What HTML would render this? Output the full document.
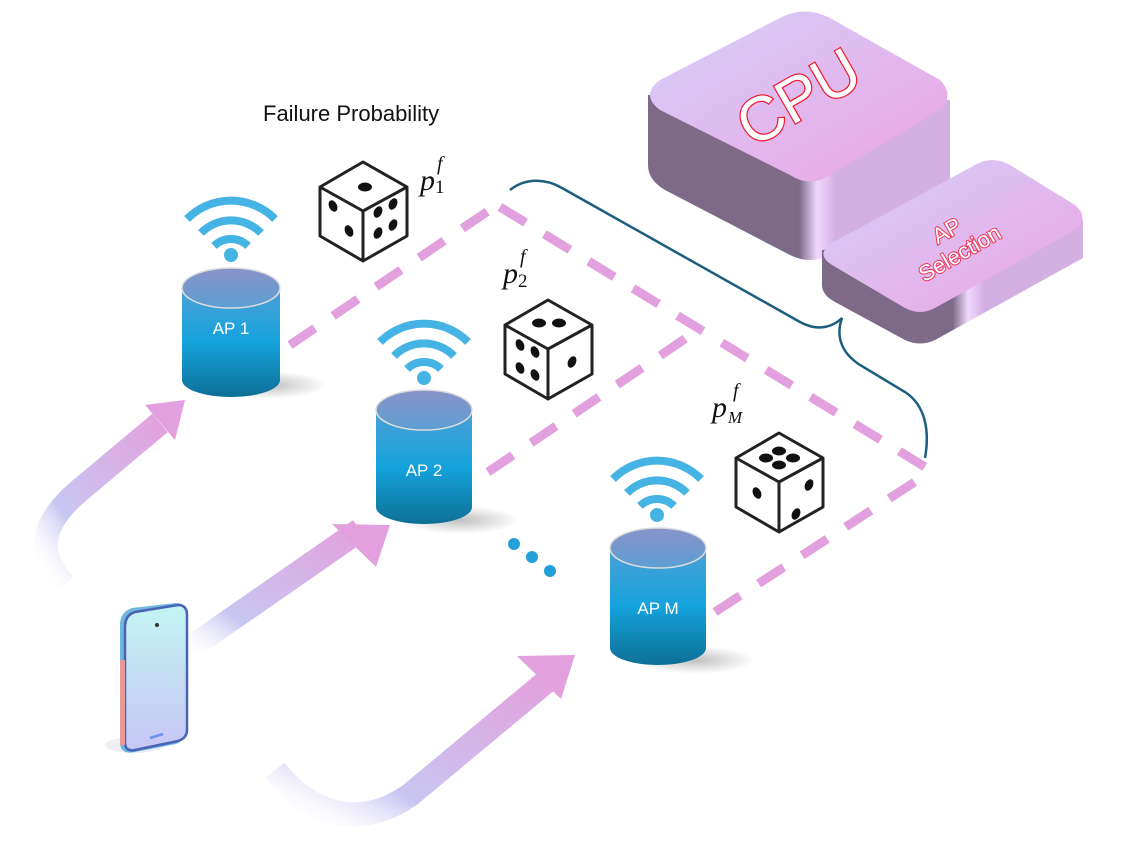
<!DOCTYPE html>
<html><head><meta charset="utf-8"><style>
html,body{margin:0;padding:0;background:#fff;}
svg{display:block;}
</style></head><body>
<svg width="1127" height="844" viewBox="0 0 1127 844" xmlns="http://www.w3.org/2000/svg">
<defs>
<linearGradient id="cyl" x1="0" y1="0" x2="0" y2="1">
<stop offset="0" stop-color="#4f9fd6"/><stop offset="0.5" stop-color="#14a3dc"/><stop offset="1" stop-color="#0d6f96"/>
</linearGradient>
<linearGradient id="cyltop" x1="0" y1="0" x2="0" y2="1">
<stop offset="0" stop-color="#8a93c8"/><stop offset="1" stop-color="#5c9ed2"/>
</linearGradient>
<linearGradient id="arr1" x1="0" y1="1" x2="1" y2="0">
<stop offset="0" stop-color="#ffffff" stop-opacity="0"/><stop offset="0.3" stop-color="#c8c6f2"/><stop offset="1" stop-color="#e3a1dd"/>
</linearGradient>
<linearGradient id="top" x1="0" y1="0" x2="1" y2="1">
<stop offset="0" stop-color="#d4d0fb"/><stop offset="1" stop-color="#eda3e2"/>
</linearGradient>
<linearGradient id="side" x1="0" y1="0" x2="1" y2="0">
<stop offset="0" stop-color="#7c6a88"/><stop offset="0.5" stop-color="#7c6a88"/><stop offset="0.56" stop-color="#f0d8ff"/><stop offset="0.62" stop-color="#d4b0e2"/><stop offset="1" stop-color="#d4b0e2"/>
</linearGradient>
<linearGradient id="phone" x1="0" y1="0" x2="0" y2="1">
<stop offset="0" stop-color="#c2f5f3"/><stop offset="1" stop-color="#c7c6f5"/>
</linearGradient>
<radialGradient id="sh"><stop offset="0" stop-color="#000" stop-opacity="0.25"/><stop offset="1" stop-color="#000" stop-opacity="0"/></radialGradient>
<g id="die">
<path d="M0,0 L-43,25 L0,49 L44,25 Z M-43,25 L-43,74 L0,99 L0,49 M44,25 L44,74 L0,99" fill="#fff" stroke="#222" stroke-width="3" stroke-linejoin="round"/>
</g>
<g id="wifi" fill="none" stroke="#45b3e3" stroke-width="8">
<path d="M-44,-36 A62,62 0 0 1 44,-36"/>
<path d="M-30,-22 A42,42 0 0 1 30,-22"/>
<path d="M-17,-9 A24,24 0 0 1 17,-9"/>
</g>
</defs>

<!-- arrows -->
<g fill="none" stroke="url(#arr1)" stroke-width="24" stroke-linecap="butt">
<path d="M65,585 Q20,540 80,490 L160,423"/>
<path d="M180,655 L360,530"/>
<path d="M275,770 C310,815 360,830 410,795 L548,680"/>
</g>
<polygon points="185,400 145,405 175,440" fill="#e2a1de"/>
<polygon points="390,525 332,524 376,567" fill="#e2a1de"/>
<polygon points="575,655 517,656 561,699" fill="#e2a1de"/>

<!-- dashed lines -->
<g stroke="#e2a0de" stroke-width="9" stroke-dasharray="30,22" fill="none">
<path d="M290,345 L497,205"/>
<path d="M500,207 L930,470"/>
<path d="M488,472 L695,332"/>
<path d="M715,612 L930,472"/>
</g>

<!-- bracket -->
<path d="M510,190 C525,178 545,178 562,188 L800,322 C820,333 835,325 842,318 C836,335 840,352 860,365 L905,392 C925,405 930,430 925,458" fill="none" stroke="#1b5e7e" stroke-width="2.5"/>

<!-- CPU block -->
<path d="M648,95 L648,165 Q648,180 665,190 L790,255 Q810,265 830,255 L950,185 L950,100 Z" fill="url(#side)"/>
<path d="M660,80 L780,18 Q805,5 830,18 L940,80 Q955,95 940,110 L830,175 Q810,188 790,175 L660,110 Q640,95 660,80 Z" fill="url(#top)"/>
<text x="800" y="118" transform="rotate(-30 800 100)" text-anchor="middle" font-family="Liberation Sans, sans-serif" font-size="62" fill="#fff" stroke="#ee1c2e" stroke-width="2.5" paint-order="stroke">CPU</text>

<!-- AP selection -->
<path d="M822,250 L822,285 Q822,295 835,302 L905,340 Q920,347 935,340 L1083,258 L1083,220 Z" fill="url(#side)"/>
<path d="M832,243 L975,165 Q992,155 1010,165 L1075,205 Q1090,218 1075,230 L935,308 Q920,316 905,308 L832,265 Q815,254 832,243 Z" fill="url(#top)"/>
<g transform="rotate(-30 955 245)" font-family="Liberation Sans, sans-serif" font-size="22" fill="#fff" stroke="#ee3355" stroke-width="2" paint-order="stroke" text-anchor="middle">
<text x="955" y="236">AP</text><text x="955" y="262">Selection</text>
</g>

<!-- shadows -->
<ellipse cx="268" cy="385" rx="60" ry="14" fill="url(#sh)"/>
<ellipse cx="460" cy="520" rx="60" ry="14" fill="url(#sh)"/>
<ellipse cx="695" cy="660" rx="60" ry="14" fill="url(#sh)"/>

<!-- cylinders -->
<path d="M182,288 L182,380 A49,17 0 0 0 280,380 L280,288 Z" fill="url(#cyl)"/>
<ellipse cx="231" cy="288" rx="49" ry="20" fill="url(#cyltop)" stroke="#ddd" stroke-width="1.5"/>
<text x="231" y="334" text-anchor="middle" font-family="Liberation Sans, sans-serif" font-size="17" fill="#fff">AP 1</text>
<path d="M376,410 L376,507 A48,17 0 0 0 472,507 L472,410 Z" fill="url(#cyl)"/>
<ellipse cx="424" cy="410" rx="48" ry="20" fill="url(#cyltop)" stroke="#ddd" stroke-width="1.5"/>
<text x="424" y="476" text-anchor="middle" font-family="Liberation Sans, sans-serif" font-size="17" fill="#fff">AP 2</text>
<path d="M610,548 L610,648 A48,17 0 0 0 706,648 L706,548 Z" fill="url(#cyl)"/>
<ellipse cx="658" cy="548" rx="48" ry="20" fill="url(#cyltop)" stroke="#ddd" stroke-width="1.5"/>
<text x="658" y="614" text-anchor="middle" font-family="Liberation Sans, sans-serif" font-size="17" fill="#fff">AP M</text>

<!-- wifi -->
<use href="#wifi" x="231" y="255"/><circle cx="231" cy="255" r="7" fill="#45b3e3"/>
<use href="#wifi" x="424" y="378"/><circle cx="424" cy="378" r="7" fill="#45b3e3"/>
<use href="#wifi" x="657" y="515"/><circle cx="657" cy="515" r="7" fill="#45b3e3"/>

<!-- dice -->
<g transform="translate(363,162)"><use href="#die"/>
<g fill="#111"><ellipse cx="2" cy="25" rx="7" ry="4.5"/>
<ellipse cx="-30" cy="44" rx="4" ry="6" transform="rotate(-25 -30 44)"/><ellipse cx="-14" cy="69" rx="4" ry="6" transform="rotate(-25 -14 69)"/>
<ellipse cx="15" cy="50" rx="4" ry="6" transform="rotate(25 15 50)"/><ellipse cx="30" cy="42" rx="4" ry="6" transform="rotate(25 30 42)"/><ellipse cx="15" cy="71" rx="4" ry="6" transform="rotate(25 15 71)"/><ellipse cx="30" cy="63" rx="4" ry="6" transform="rotate(25 30 63)"/></g></g>
<g transform="translate(548,300)"><use href="#die"/>
<g fill="#111"><ellipse cx="-9" cy="23" rx="7" ry="4.5"/><ellipse cx="11" cy="23" rx="7" ry="4.5"/>
<ellipse cx="-28" cy="45" rx="4" ry="6" transform="rotate(-25 -28 45)"/><ellipse cx="-13" cy="52" rx="4" ry="6" transform="rotate(-25 -13 52)"/><ellipse cx="-28" cy="68" rx="4" ry="6" transform="rotate(-25 -28 68)"/><ellipse cx="-13" cy="75" rx="4" ry="6" transform="rotate(-25 -13 75)"/>
<ellipse cx="24" cy="62" rx="4" ry="6" transform="rotate(25 24 62)"/></g></g>
<g transform="translate(779,433)"><use href="#die"/>
<g fill="#111"><ellipse cx="-13" cy="25" rx="7" ry="4.5"/><ellipse cx="0" cy="18" rx="7" ry="4.5"/><ellipse cx="14" cy="25" rx="7" ry="4.5"/><ellipse cx="0" cy="32" rx="7" ry="4.5"/>
<ellipse cx="-22" cy="60" rx="4" ry="6" transform="rotate(-25 -22 60)"/><ellipse cx="30" cy="52" rx="4" ry="6" transform="rotate(25 30 52)"/><ellipse cx="17" cy="81" rx="4" ry="6" transform="rotate(25 17 81)"/></g></g>

<!-- labels -->
<text x="263" y="121" font-family="Liberation Sans, sans-serif" font-size="22" fill="#111">Failure Probability</text>
<g font-family="Liberation Serif, serif" font-style="italic" fill="#111">
<text x="420" y="190" font-size="30">p</text><text x="437" y="170" font-size="20">f</text><text x="435" y="193" font-size="19" font-style="normal">1</text>
<text x="503" y="283" font-size="30">p</text><text x="520" y="263" font-size="20">f</text><text x="518" y="287" font-size="19" font-style="normal">2</text>
<text x="712" y="417" font-size="30">p</text><text x="733" y="397" font-size="20">f</text><text x="728" y="423" font-size="17">M</text>
</g>

<!-- dots -->
<g fill="#23a0d8"><circle cx="514" cy="544" r="6"/><circle cx="532" cy="557" r="6"/><circle cx="550" cy="571" r="6"/></g>

<!-- phone -->
<ellipse cx="135" cy="745" rx="30" ry="8" fill="#eeeef5"/>
<path d="M120,625 Q120,612 132,608 L176,603 Q186,603 186,615 L186,730 Q186,740 176,744 L135,752 Q120,755 120,742 Z" fill="#6fb6de"/>
<path d="M125,627 Q125,615 135,612 L178,605 Q187,605 187,615 L187,730 Q187,738 178,741 L135,750 Q125,752 125,742 Z" fill="url(#phone)" stroke="#4a63b5" stroke-width="2.5"/>
<rect x="120" y="660" width="5" height="85" fill="#e89a98"/>
<circle cx="157" cy="625" r="2" fill="#333"/>
<line x1="150" y1="738" x2="163" y2="734" stroke="#6f8ff0" stroke-width="2.5"/>
</svg>
</body></html>
